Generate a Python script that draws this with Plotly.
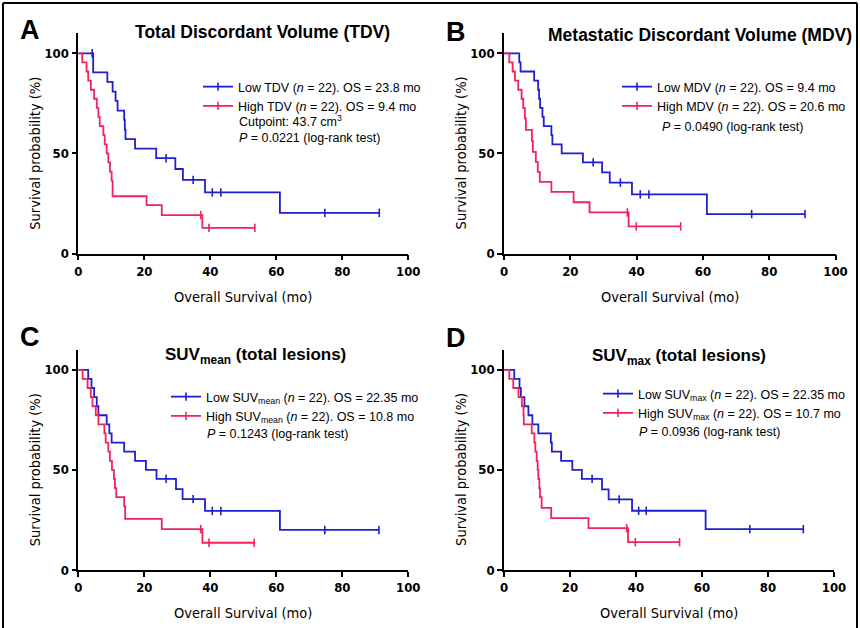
import plotly.graph_objects as go

W, H = 860, 628
BLUE = "#1f1fd0"
RED = "#f0245a"

# ---------------- data (time in months, survival %) ----------------
# Panel A: TDV
a_low_t = [0, 4.5, 8.8, 10.4, 11.3, 11.9, 13.9, 14.1, 14.3, 17.2, 23.6, 29.4, 31.7, 38.4, 61.1]
a_low_s = [100, 90.5, 85.7, 80.9, 76.2, 71.4, 66.7, 61.9, 57.1, 52.4, 47.6, 42.2, 36.8, 30.5, 20.3]
a_low_c = [4.2, 26.6, 34.8, 40.6, 43.2, 74.7, 91.2]
a_high_t = [0, 1.2, 2.5, 3.0, 3.8, 4.8, 5.6, 6.1, 6.5, 7.6, 8.0, 8.6, 9.1, 9.6, 10.1, 10.4, 20.7, 25.3, 37.6]
a_high_s = [100, 95.5, 90.9, 86.4, 81.8, 77.3, 72.7, 68.2, 63.6, 59.1, 54.5, 50.0, 45.5, 40.9, 36.4, 28.6, 24.2, 19.2, 12.8]
a_high_c = [37.1, 39.6, 53.5]

# Panel B: MDV
b_low_t = [0, 4.6, 5.0, 9.1, 10.3, 10.6, 10.9, 11.6, 12.0, 14.3, 14.6, 17.4, 23.8, 29.6, 31.9, 38.6, 61.2]
b_low_s = [100, 95.5, 90.9, 86.4, 81.8, 77.3, 72.7, 68.2, 63.6, 59.1, 54.5, 50.0, 45.5, 40.5, 35.4, 29.5, 19.7]
b_low_c = [26.9, 35.1, 41.1, 43.7, 74.7, 90.8]
b_high_t = [0, 1.6, 2.6, 3.3, 4.3, 5.3, 5.8, 6.3, 6.6, 8.4, 8.7, 9.6, 10.2, 10.8, 14.3, 21.0, 25.8, 37.6]
b_high_s = [100, 95.5, 90.9, 86.4, 81.8, 77.3, 72.7, 67.5, 61.8, 56.3, 50.8, 45.8, 40.8, 35.8, 30.8, 25.6, 20.5, 13.5]
b_high_c = [37.2, 39.9, 53.3]

# Panel C: SUVmean
c_low_t = [0, 3.0, 4.0, 4.8, 5.6, 6.1, 8.6, 9.4, 10.1, 13.9, 17.2, 20.5, 23.7, 29.6, 31.6, 38.4, 61.1]
c_low_s = [100, 95.5, 90.9, 86.4, 81.8, 77.3, 72.7, 68.2, 63.6, 59.1, 54.5, 50.0, 45.5, 40.4, 35.4, 29.5, 20.0]
c_low_c = [26.6, 34.8, 40.6, 43.2, 74.7, 91.1]
c_high_t = [0, 1.3, 2.8, 3.8, 4.3, 5.3, 6.1, 7.9, 8.3, 9.1, 9.6, 10.2, 10.8, 11.1, 11.5, 13.9, 14.2, 25.3, 37.6]
c_high_s = [100, 95.5, 90.9, 86.4, 81.8, 77.3, 72.7, 68.2, 63.6, 59.1, 54.5, 50.0, 45.5, 40.9, 36.4, 31.8, 25.5, 20.4, 13.6]
c_high_c = [37.1, 39.6, 53.3]

# Panel D: SUVmax
d_low_t = [0, 3.1, 4.7, 5.1, 6.2, 7.4, 8.6, 10.4, 14.2, 14.5, 17.3, 20.7, 23.6, 29.7, 31.7, 38.8, 61.1]
d_low_s = [100, 95.5, 90.9, 86.4, 81.8, 77.3, 72.7, 68.2, 63.6, 59.1, 54.5, 50.0, 45.5, 40.3, 35.3, 29.6, 20.4]
d_low_c = [26.7, 34.9, 40.8, 43.1, 74.5, 90.7]
d_high_t = [0, 1.6, 2.8, 4.4, 5.4, 5.9, 6.0, 8.4, 9.2, 9.5, 9.9, 10.2, 10.4, 10.7, 10.9, 11.4, 14.3, 25.6, 37.6]
d_high_s = [100, 95.5, 90.9, 86.4, 81.8, 77.3, 72.7, 68.2, 63.6, 59.1, 54.5, 50.0, 45.5, 40.9, 36.4, 31.0, 25.9, 20.9, 13.9]
d_high_c = [37.2, 39.8, 53.2]

x_ticks = [0, 20, 40, 60, 80, 100]
y_ticks = [0, 50, 100]

panel_letters = ["A", "B", "C", "D"]
panel_titles = [
    "Total Discordant Volume (TDV)",
    "Metastatic Discordant Volume (MDV)",
    "SUV<sub>mean</sub> (total lesions)",
    "SUV<sub>max</sub> (total lesions)",
]
low_labels = [
    "Low TDV (<i>n</i> = 22). OS = 23.8 mo",
    "Low MDV (<i>n</i> = 22). OS = 9.4 mo",
    "Low SUV<sub>mean</sub> (<i>n</i> = 22). OS = 22.35 mo",
    "Low SUV<sub>max</sub> (<i>n</i> = 22). OS = 22.35 mo",
]
high_labels = [
    "High TDV (<i>n</i> = 22). OS = 9.4 mo",
    "High MDV (<i>n</i> = 22). OS = 20.6 mo",
    "High SUV<sub>mean</sub> (<i>n</i> = 22). OS = 10.8 mo",
    "High SUV<sub>max</sub> (<i>n</i> = 22). OS = 10.7 mo",
]
extra_notes = [
    ["Cutpoint: 43.7 cm<sup>3</sup>", "<i>P</i> = 0.0221 (log-rank test)"],
    ["<i>P</i> = 0.0490 (log-rank test)"],
    ["<i>P</i> = 0.1243 (log-rank test)"],
    ["<i>P</i> = 0.0936 (log-rank test)"],
]

panels = [
    (a_low_t, a_low_s, a_low_c, a_high_t, a_high_s, a_high_c),
    (b_low_t, b_low_s, b_low_c, b_high_t, b_high_s, b_high_c),
    (c_low_t, c_low_s, c_low_c, c_high_t, c_high_s, c_high_c),
    (d_low_t, d_low_s, d_low_c, d_high_t, d_high_s, d_high_c),
]

# ---------------- layout geometry (pixels) ----------------
geom = [
    (78.3, 408.3, 253.5, 53.3),
    (504.0, 835.5, 253.5, 53.3),
    (78.3, 408.3, 570.0, 369.8),
    (504.0, 834.0, 570.0, 369.8),
]
YMAX = 110

def fx(px):
    return px / W

def fy(py):
    return 1 - py / H

def step_at(ts, ss, t):
    v = ss[0]
    for ti, si in zip(ts, ss):
        if ti <= t:
            v = si
    return v

NARROW = "Liberation Sans Narrow, DejaVu Sans Condensed, Arial Narrow, sans-serif"
TICK_FONT = dict(family=NARROW, size=13, color="black", weight="bold")
LEG_FONT = dict(family="Liberation Sans, Arial, sans-serif", size=12.5, color="black")

fig = go.Figure()
layout = dict(width=W, height=H, margin=dict(l=0, r=0, t=0, b=0, autoexpand=False),
              paper_bgcolor="white", plot_bgcolor="white", showlegend=True)

annotations = []
legend_pos = [(198, 72), (617, 72), (166, 382), (598, 379)]
note_pos = [(237, [121, 138]), (660, [127]), (205, [434]), (637, [432])]
title_pos = [(262, 32), (700, 35), (255, 356), (679, 357)]
title_size = [17.5, 17.5, 17, 17]
letter_pos = [(30, 30), (456, 32), (30, 337), (456, 338)]

for i, (lt, ls, lc, ht, hs, hc) in enumerate(panels):
    k = "" if i == 0 else str(i + 1)
    xa, ya = "x" + k, "y" + k
    lg = "legend" + k
    x0, x100, y0, y100 = geom[i]
    ytop = y0 - (y0 - y100) * YMAX / 100
    layout["xaxis" + k] = dict(domain=[fx(x0), fx(x100)], anchor=ya, range=[0, 100],
                               tickvals=x_ticks, showline=True, linecolor="black", linewidth=1.6,
                               ticks="outside", ticklen=5, tickwidth=1.6, tickcolor="black",
                               showgrid=False, zeroline=False, tickfont=TICK_FONT, fixedrange=True)
    layout["yaxis" + k] = dict(domain=[fy(y0), fy(ytop)], anchor=xa, range=[0, YMAX],
                               tickvals=y_ticks, showline=True, linecolor="black", linewidth=1.6,
                               ticks="outside", ticklen=5, tickwidth=1.6, tickcolor="black",
                               showgrid=False, zeroline=False, tickfont=TICK_FONT, fixedrange=True)

    for ts, ss, cs, col, lab in [(lt, ls, lc, BLUE, low_labels[i]), (ht, hs, hc, RED, high_labels[i])]:
        assert len(ts) == len(ss)
        xs = list(ts) + [max(cs)]
        ys = list(ss) + [ss[-1]]
        fig.add_trace(go.Scatter(x=xs, y=ys, mode="lines", line=dict(color=col, width=1.8, shape="hv"),
                                 xaxis=xa, yaxis=ya, showlegend=False, hoverinfo="skip", cliponaxis=False))
        fig.add_trace(go.Scatter(x=cs, y=[step_at(ts, ss, c) for c in cs], mode="markers",
                                 marker=dict(symbol="line-ns", size=6, line=dict(color=col, width=1.6)),
                                 xaxis=xa, yaxis=ya, showlegend=False, hoverinfo="skip", cliponaxis=False))
        fig.add_trace(go.Scatter(x=[None], y=[None], mode="lines+markers", name=lab,
                                 line=dict(color=col, width=1.8),
                                 marker=dict(symbol="line-ns", size=6, line=dict(color=col, width=1.6)),
                                 xaxis=xa, yaxis=ya, legend=lg))

    lx, ly = legend_pos[i]
    layout[lg] = dict(x=fx(lx), y=fy(ly), xanchor="left", yanchor="top", font=LEG_FONT,
                      bgcolor="rgba(0,0,0,0)", borderwidth=0, itemwidth=30, tracegroupgap=0,
                      itemclick=False, itemdoubleclick=False)

    nx, nys = note_pos[i]
    for txt, ny in zip(extra_notes[i], nys):
        annotations.append(dict(text=txt, x=fx(nx), y=fy(ny), xref="paper", yref="paper",
                                xanchor="left", yanchor="middle", showarrow=False, font=LEG_FONT))
    tx, ty = title_pos[i]
    annotations.append(dict(text="<b>" + panel_titles[i] + "</b>", x=fx(tx), y=fy(ty), xref="paper",
                            yref="paper", xanchor="center", yanchor="middle", showarrow=False,
                            font=dict(family="Liberation Sans, Arial, sans-serif", size=title_size[i],
                                      color="black")))
    px_, py_ = letter_pos[i]
    annotations.append(dict(text="<b>" + panel_letters[i] + "</b>", x=fx(px_), y=fy(py_), xref="paper",
                            yref="paper", xanchor="center", yanchor="middle", showarrow=False,
                            font=dict(family="Liberation Sans, Arial, sans-serif", size=27, color="black")))
    annotations.append(dict(text="Overall Survival (mo)", x=fx((x0 + x100) / 2), y=fy(y0 + 43),
                            xref="paper", yref="paper", xanchor="center", yanchor="middle", showarrow=False,
                            font=dict(family=NARROW, size=14.5, color="black")))
    annotations.append(dict(text="Survival probability (%)", x=fx(x0 - 43), y=fy((y0 + y100) / 2),
                            xref="paper", yref="paper", xanchor="center", yanchor="middle", showarrow=False,
                            textangle=-90, font=dict(family=NARROW, size=14.5, color="black")))

layout["annotations"] = annotations
layout["shapes"] = [
    dict(type="line", xref="paper", yref="paper", x0=fx(3), x1=fx(3), y0=0, y1=fy(3),
         line=dict(color="black", width=2)),
    dict(type="line", xref="paper", yref="paper", x0=fx(3), x1=fx(857), y0=fy(3), y1=fy(3),
         line=dict(color="black", width=2)),
    dict(type="line", xref="paper", yref="paper", x0=fx(857), x1=fx(857), y0=0, y1=fy(3),
         line=dict(color="black", width=2)),
]
fig.update_layout(**layout)
fig.write_html("out.html", config={"displayModeBar": False},
               post_script="document.body.style.margin='0';document.body.style.padding='0';"
                           "document.documentElement.style.overflow='hidden';")
